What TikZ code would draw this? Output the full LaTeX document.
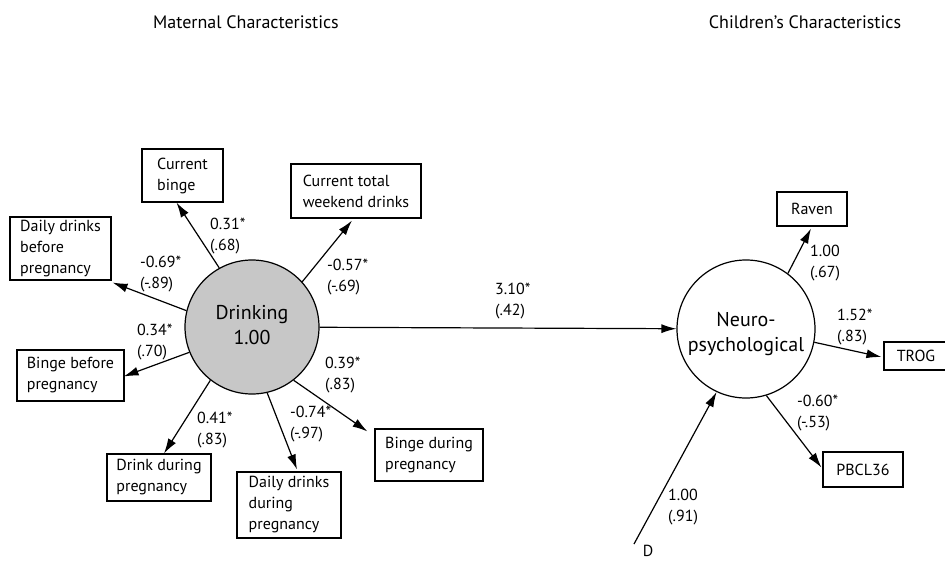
\documentclass[tikz,border=0pt]{standalone}
\usepackage{fontspec}
\setmainfont{PT Sans}
\usetikzlibrary{arrows.meta}
\tikzset{
  box/.style={draw, line width=1.1pt, rectangle, inner sep=0pt, align=left, font=\fontsize{16}{21}\selectfont},
  lbl/.style={anchor=west, inner sep=0pt, align=left, font=\fontsize{16}{21}\selectfont},
  ttl/.style={inner sep=0pt, font=\fontsize{18}{22}\selectfont},
  latent/.style={draw, circle, line width=1.2pt, align=center, font=\fontsize{20}{25}\selectfont},
  intext/.style={inner sep=0pt, align=center, font=\fontsize{20}{25}\selectfont},
  arr/.style={line width=1.2pt, -{Latex[length=15pt,width=9pt]}}
}
\begin{document}
\begin{tikzpicture}[x=1pt,y=-1pt]
\useasboundingbox (0,0) rectangle (945,562);
\fill[white] (0,0) rectangle (945,562);

% titles
\node[ttl] (t1) at (246,22) {Maternal Characteristics};
\node[ttl] (t2) at (805,22) {Children's Characteristics};

% latent variables
\node[latent, fill=black!22, minimum size=134pt] (drink) at (252,327) {};
\node[intext] (drinktxt) at (252,325.5) {Drinking\\1.00};
\node[latent, fill=white, minimum size=138pt] (neuro) at (746,329) {};
\node[intext] (neurotxt) at (746,334) {Neuro-\\psychological};

% indicator boxes
\node[box, minimum width=81pt, minimum height=53pt] (cbinge) at (182.5,175.5) {Current\\binge};
\node[box, minimum width=130pt, minimum height=54pt] (ctotal) at (356,191) {Current total\\weekend drinks};
\node[box, minimum width=101pt, minimum height=63pt] (dbefore) at (60.5,248.5) {Daily drinks\\before\\pregnancy};
\node[box, minimum width=107pt, minimum height=51pt] (bbefore) at (70.5,375.5) {Binge before\\pregnancy};
\node[box, minimum width=104pt, minimum height=47pt] (ddrink) at (159,477.5) {Drink during\\pregnancy};
\node[box, minimum width=104pt, minimum height=66pt] (ddaily) at (289,505) {Daily drinks\\during\\pregnancy};
\node[box, minimum width=108pt, minimum height=52pt] (bduring) at (429,455) {Binge during\\pregnancy};
\node[box, minimum width=70pt, minimum height=34pt] (raven) at (812,209) {Raven};
\node[box, minimum width=64pt, minimum height=28pt] (trog) at (916,356) {TROG};
\node[box, minimum width=80pt, minimum height=35pt] (pbcl) at (863,469.5) {PBCL36};

% disturbance
\node[inner sep=0pt, font=\fontsize{16}{20}\selectfont] (D) at (648,551) {D};
\coordinate (dstart) at (634,544);

% arrows from Drinking
\draw[arr] (drink.119) -- ([xshift=-6pt]cbinge.south);
\draw[arr] (drink.42) -- ([xshift=-4pt,yshift=-2pt]ctotal.south);
\draw[arr] (drink.166) -- ([xshift=1pt,yshift=-2pt]dbefore.south east);
\draw[arr] (drink.202) -- ([xshift=-1pt,yshift=-1pt]bbefore.east);
\draw[arr] (drink.232) -- ([xshift=5pt]ddrink.north);
\draw[arr] (drink.283) -- ([xshift=8pt,yshift=2pt]ddaily.north);
\draw[arr] (drink.308) -- ([xshift=-7pt,yshift=-3pt]bduring.north west);
\draw[arr] (drink) -- (neuro);

% arrows from Neuro
\draw[arr] (neuro.53) -- ([xshift=-1pt,yshift=-2pt]raven.south);
\draw[arr] (neuro.349) -- ([xshift=-2pt,yshift=-1pt]trog.west);
\draw[arr] (neuro.287) -- ([xshift=-1pt,yshift=2pt]pbcl.west);
\draw[arr] (dstart) -- (neuro.245);

% path coefficients
\node[lbl] (l1) at (210,236) {0.31*\\(.68)};
\node[lbl] (l2) at (327,277.5) {-0.57*\\(-.69)};
\node[lbl] (l3) at (140,274) {-0.69*\\(-.89)};
\node[lbl] (l4) at (137,342) {0.34*\\(.70)};
\node[lbl] (l5) at (197,430) {0.41*\\(.83)};
\node[lbl] (l6) at (290,424.5) {-0.74*\\(-.97)};
\node[lbl] (l7) at (325,375.5) {0.39*\\(.83)};
\node[lbl] (l8) at (495,301.5) {3.10*\\(.42)};
\node[lbl] (l9) at (810,263.5) {1.00\\(.67)};
\node[lbl] (l10) at (837,327) {1.52*\\(.83)};
\node[lbl] (l11) at (797,413.5) {-0.60*\\(-.53)};
\node[lbl] (l12) at (668,507.5) {1.00\\(.91)};
\end{tikzpicture}
\end{document}
